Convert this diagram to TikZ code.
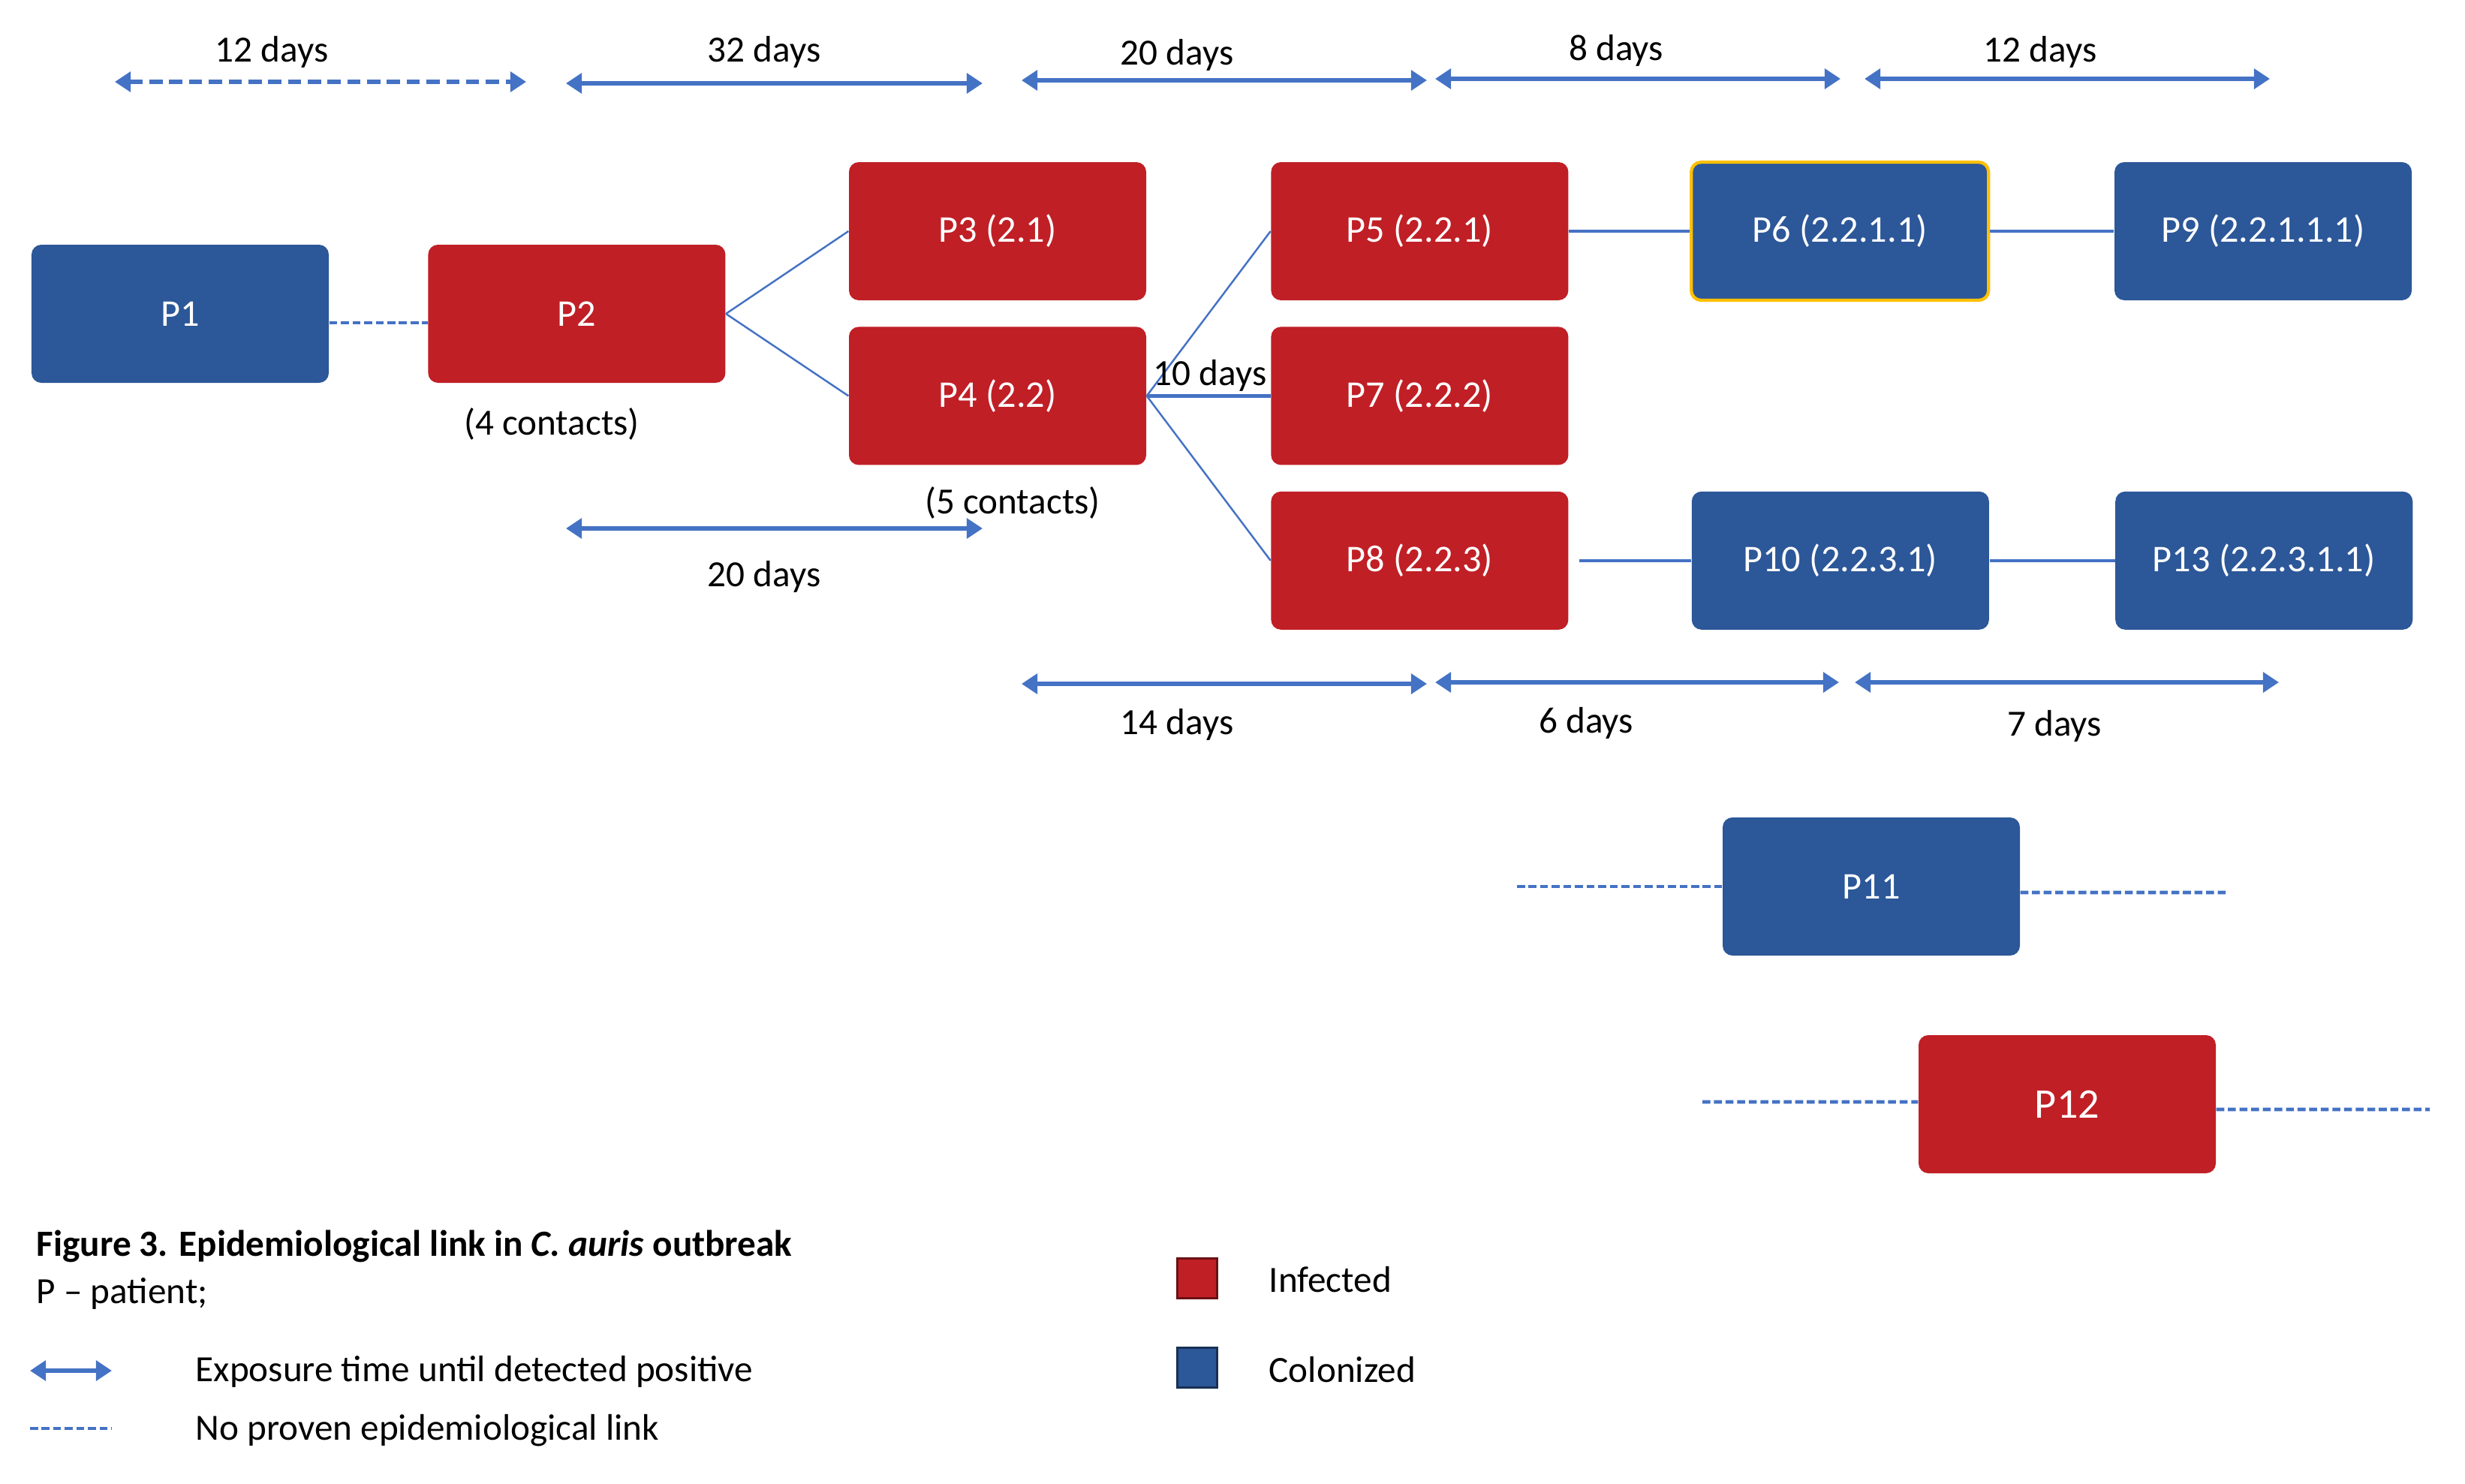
\documentclass[tikz,border=0pt]{standalone}
\usepackage{fontspec}
\setmainfont{Carlito}
\usepackage{xcolor}
\usepackage{tikz}
\usetikzlibrary{arrows.meta, positioning, calc}
\definecolor{infred}{RGB}{192,31,38}
\definecolor{colblue}{RGB}{44,87,152}
\definecolor{linkblue}{RGB}{68,114,196}
\definecolor{markgold}{RGB}{255,192,0}

\begin{document}
\begin{tikzpicture}[
  font=\fontsize{14}{17}\selectfont,
  patient/.style={rounded corners=0.13cm, minimum width=3.96cm, minimum height=1.84cm, inner sep=0pt, text=white, font=\fontsize{14.3}{17}\selectfont},
  infected/.style={patient, fill=infred},
  colonized/.style={patient, fill=colblue},
  link/.style={draw=linkblue, line width=0.7pt},
  nolink/.style={draw=linkblue, line width=1.4pt, dash pattern=on 3pt off 1.4pt},
  timespan/.style={draw=linkblue, line width=1.6pt, {Triangle[length=6pt,width=7.5pt]}-{Triangle[length=6pt,width=7.5pt]}},
  keytext/.style={anchor=west, inner sep=0pt},
  node distance=0.34cm and 1.65cm
]
\useasboundingbox (0,0) rectangle (32.84,-19.77);

% Patients
\node[colonized] (p1) at (2.40,-4.18) {P1};
\node[infected, right=1.31cm of p1] (p2) {P2};
\node[infected] (p3) at (13.29,-3.08) {P3 (2.1)};
\node[infected, below=of p3] (p4) {P4 (2.2)};
\node[infected, right=of p3] (p5) {P5 (2.2.1)};
\node[infected, below=of p5] (p7) {P7 (2.2.2)};
\node[infected, below=of p7] (p8) {P8 (2.2.3)};
\node[colonized, draw=markgold, line width=1.2pt, right=1.61cm of p5] (p6) {P6 (2.2.1.1)};
\node[colonized, right=of p6] (p9) {P9 (2.2.1.1.1)};
\node[colonized, right=1.63cm of p8] (p10) {P10 (2.2.3.1)};
\node[colonized, right=1.67cm of p10] (p13) {P13 (2.2.3.1.1)};
\node[colonized] (p11) at (24.93,-11.81) {P11};
\node[infected, font=\fontsize{16}{19}\selectfont] (p12) at (27.54,-14.71) {P12};

% Links
\draw[nolink] ([yshift=-0.12cm]p1.east) -- ([yshift=-0.12cm]p2.west);
\draw[link] (p2.east) -- (p3.west);
\draw[link] (p2.east) -- (p4.west);
\draw[link] (p4.east) -- (p5.west);
\draw[link, line width=1.2pt] (p4.east) -- (p7.west);
\draw[link] (p4.east) -- (p8.west);
\draw[link, line width=1.2pt] (p5) -- (p6);
\draw[link, line width=1.2pt] (p6) -- (p9);
\draw[link, line width=1.2pt] ([xshift=0.14cm]p8.east) -- (p10.west);
\draw[link, line width=1.2pt] (p10) -- (p13);

% Unlinked patients
\coordinate (p11in) at (20.21,-11.81);
\coordinate (p11out) at (29.65,-11.89);
\coordinate (p12in) at (22.68,-14.68);
\coordinate (p12out) at (32.37,-14.78);
\draw[nolink] (p11in) -- (p11.west);
\draw[nolink] ([yshift=-0.08cm]p11.east) -- (p11out);
\draw[nolink] (p12in) -- ([yshift=0.03cm]p12.west);
\draw[nolink] ([yshift=-0.07cm]p12.east) -- (p12out);

% Exposure times
\coordinate (t1a) at (1.53,-1.09); \coordinate (t1b) at (7.01,-1.09);
\coordinate (t2a) at (7.54,-1.11); \coordinate (t2b) at (13.09,-1.11);
\coordinate (t3a) at (13.61,-1.07); \coordinate (t3b) at (19.01,-1.07);
\coordinate (t4a) at (19.12,-1.05); \coordinate (t4b) at (24.52,-1.05);
\coordinate (t5a) at (24.84,-1.05); \coordinate (t5b) at (30.24,-1.05);
\coordinate (t6a) at (7.54,-7.04); \coordinate (t6b) at (13.09,-7.04);
\coordinate (t7a) at (13.61,-9.11); \coordinate (t7b) at (19.01,-9.11);
\coordinate (t8a) at (19.12,-9.09); \coordinate (t8b) at (24.50,-9.09);
\coordinate (t9a) at (24.71,-9.09); \coordinate (t9b) at (30.36,-9.09);
\draw[timespan, dash pattern=on 5pt off 2.5pt] (t1a) -- (t1b);
\draw[timespan] (t2a) -- (t2b);
\draw[timespan] (t3a) -- (t3b);
\draw[timespan] (t4a) -- (t4b);
\draw[timespan] (t5a) -- (t5b);
\draw[timespan] (t6a) -- (t6b);
\draw[timespan] (t7a) -- (t7b);
\draw[timespan] (t8a) -- (t8b);
\draw[timespan] (t9a) -- (t9b);
\node (d1) at (3.62,-0.69) {12 days};
\node (d2) at (10.18,-0.69) {32 days};
\node (d3) at (15.68,-0.73) {20 days};
\node (d4) at (21.53,-0.67) {8 days};
\node (d5) at (27.18,-0.69) {12 days};
\node (d6) at (10.18,-7.68) {20 days};
\node (d7) at (15.68,-9.65) {14 days};
\node (d8) at (21.13,-9.63) {6 days};
\node (d9) at (27.37,-9.67) {7 days};
\node (d10) at (16.12,-5.00) {10 days};
\node (c4) at (7.35,-5.65) {(4 contacts)};
\node (c5) at (13.49,-6.70) {(5 contacts)};

% Legend
\node[keytext] (title) at (0.48,-16.60) {\textbf{Figure 3. Epidemiological link in \textit{C. auris} outbreak}};
\node[keytext] (pkey) at (0.48,-17.23) {P – patient;};
\coordinate (ka) at (0.40,-18.26); \coordinate (kb) at (1.49,-18.26);
\draw[timespan] (ka) -- (kb);
\node[keytext] (kexp) at (2.60,-18.27) {Exposure time until detected positive};
\coordinate (la) at (0.40,-19.03); \coordinate (lb) at (1.49,-19.03);
\draw[nolink] (la) -- (lb);
\node[keytext] (knol) at (2.60,-19.06) {No proven epidemiological link};
\node[fill=infred, draw=infred!55!black, line width=0.8pt, minimum size=0.53cm, inner sep=0pt] (kred) at (15.95,-17.03) {};
\node[keytext] (kinf) at (16.90,-17.05) {Infected};
\node[fill=colblue, draw=colblue!55!black, line width=0.8pt, minimum size=0.53cm, inner sep=0pt] (kblue) at (15.95,-18.22) {};
\node[keytext] (kcol) at (16.90,-18.25) {Colonized};
\end{tikzpicture}
\end{document}
